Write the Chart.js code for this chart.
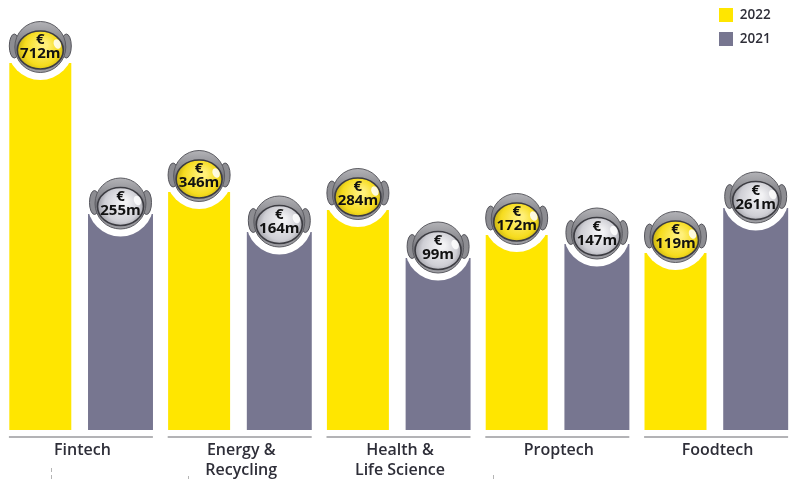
<!DOCTYPE html>
<html>
<head>
<meta charset="utf-8">
<title>Funding by sector</title>
<script src="https://cdn.jsdelivr.net/npm/chart.js@4"></script>
<style>
html, body { margin: 0; padding: 0; background: #fff; overflow: hidden; }
canvas { display: block; }
</style>
</head>
<body>
<canvas id="mycanvas" width="795" height="479"></canvas>
<script>
var categories = ["Fintech", ["Energy &", "Recycling"], ["Health &", "Life Science"], "Proptech", "Foodtech"];
var seriesNames = ["2022", "2021"];

// printed amounts, in million euro
var values2022 = [712, 346, 284, 172, 119];
var values2021 = [255, 164, 99, 147, 261];

// the bars in the original are not drawn to scale, so their heights are read off separately
var heights2022 = [367, 238, 220, 195, 177];
var heights2021 = [216, 198, 172, 186, 222];

var YELLOW = "#ffe600";
var GREY = "#777690";
var INK = "#2e2e38";
var FONT = '"Open Sans", sans-serif';

function drawHelmet(ctx, x, y, yellow, amount) {
	// ears
	ctx.fillStyle = "#8d8d92";
	ctx.strokeStyle = "#55555c";
	ctx.lineWidth = 1;
	[-1, 1].forEach(function(side) {
		ctx.beginPath();
		ctx.ellipse(x + side * 26, y - 1, 5, 12, 0, 0, Math.PI * 2);
		ctx.fill();
		ctx.stroke();
	});

	// shell
	var shell = ctx.createLinearGradient(0, y - 26, 0, y + 26);
	shell.addColorStop(0, "#b4b4b8");
	shell.addColorStop(0.5, "#77777d");
	shell.addColorStop(1, "#a0a0a5");
	ctx.fillStyle = shell;
	ctx.beginPath();
	ctx.arc(x, y, 25.5, 0, Math.PI * 2);
	ctx.fill();
	ctx.lineWidth = 1;
	ctx.strokeStyle = "#5c5c62";
	ctx.stroke();

	// visor
	var visor = ctx.createRadialGradient(x + 4, y - 2, 3, x, y + 3, 25);
	if (yellow) {
		visor.addColorStop(0, "#fff07a");
		visor.addColorStop(0.65, "#f6dc1e");
		visor.addColorStop(1, "#b9a40f");
	} else {
		visor.addColorStop(0, "#f2f2f4");
		visor.addColorStop(0.65, "#cfcfd5");
		visor.addColorStop(1, "#8f8f96");
	}
	ctx.fillStyle = visor;
	ctx.beginPath();
	ctx.ellipse(x, y + 3, 23, 19, 0, 0, Math.PI * 2);
	ctx.fill();
	ctx.lineWidth = 1.6;
	ctx.strokeStyle = "#3c3c42";
	ctx.stroke();

	// shine
	ctx.fillStyle = "rgba(255,255,255,0.85)";
	ctx.beginPath();
	ctx.ellipse(x + 17, y - 3, 3.5, 5, -0.4, 0, Math.PI * 2);
	ctx.fill();

	ctx.fillStyle = "#111";
	ctx.textAlign = "center";
	ctx.textBaseline = "middle";
	ctx.font = "700 15px " + FONT;
	ctx.fillText("€", x, y - 7);
	ctx.fillText(amount + "m", x, y + 7);
}

var helmetPlugin = {
	id: "helmets",
	afterLayout: function(chart) {
		// move the legend up to the top right corner
		chart.legend.left = 709;
		chart.legend.top = -2;
	},
	afterDatasetsDraw: function(chart) {
		var ctx = chart.ctx;
		var xScale = chart.scales.x;
		ctx.save();

		var amounts = [values2022, values2021];
		var lifts = [16, 10.5];
		chart.data.datasets.forEach(function(ds, d) {
			chart.getDatasetMeta(d).data.forEach(function(bar, i) {
				var cy = bar.y - lifts[d];
				ctx.fillStyle = "#fff";
				ctx.beginPath();
				ctx.arc(bar.x, cy, 33, 0, Math.PI * 2);
				ctx.fill();
				drawHelmet(ctx, bar.x, cy, d === 0, amounts[d][i]);
			});
		});

		// rule under each group
		ctx.strokeStyle = "#9a9a9e";
		ctx.lineWidth = 1.5;
		categories.forEach(function(c, i) {
			var px = xScale.getPixelForTick(i);
			ctx.beginPath();
			ctx.moveTo(px - 71.5, 437);
			ctx.lineTo(px + 72.5, 437);
			ctx.stroke();
		});

		// stray specks left in the source image
		ctx.fillStyle = "#b5b5b5";
		ctx.fillRect(51, 468, 1, 4);
		ctx.fillRect(51, 475, 1, 4);
		ctx.fillRect(188, 476, 1, 3);
		ctx.fillRect(493, 475, 1, 4);
		ctx.restore();
	}
};

var ctx = document.getElementById("mycanvas");

var chart = new Chart(ctx, {
	type: "bar",
	plugins: [helmetPlugin],
	data: {
		labels: categories,
		datasets: [
			{
				label: seriesNames[0],
				backgroundColor: YELLOW,
				barPercentage: 0.773,
				categoryPercentage: 1.01,
				data: heights2022
			},
			{
				label: seriesNames[1],
				backgroundColor: GREY,
				barPercentage: 0.81,
				categoryPercentage: 1.01,
				data: heights2021
			}
		]
	},
	options: {
		responsive: false,
		animation: false,
		layout: { padding: { left: 1, right: 0, top: 0, bottom: 0 } },
		plugins: {
			tooltip: { enabled: false },
			legend: {
				position: "chartArea",
				align: "start",
				labels: {
					boxWidth: 14,
					boxHeight: 14,
					padding: 10,
					color: INK,
					font: { family: FONT, size: 13.5, weight: "600" }
				}
			}
		},
		scales: {
			x: {
				grid: { display: false },
				border: { display: false },
				afterFit: function(scale) { scale.height = 49; },
				ticks: {
					maxRotation: 0,
					autoSkip: false,
					padding: 2,
					labelOffset: 2,
					color: INK,
					font: { family: FONT, size: 16, weight: "600", lineHeight: 1.25 }
				}
			},
			y: {
				display: false,
				min: 0,
				max: 430
			}
		}
	}
});
</script>
</body>
</html>
